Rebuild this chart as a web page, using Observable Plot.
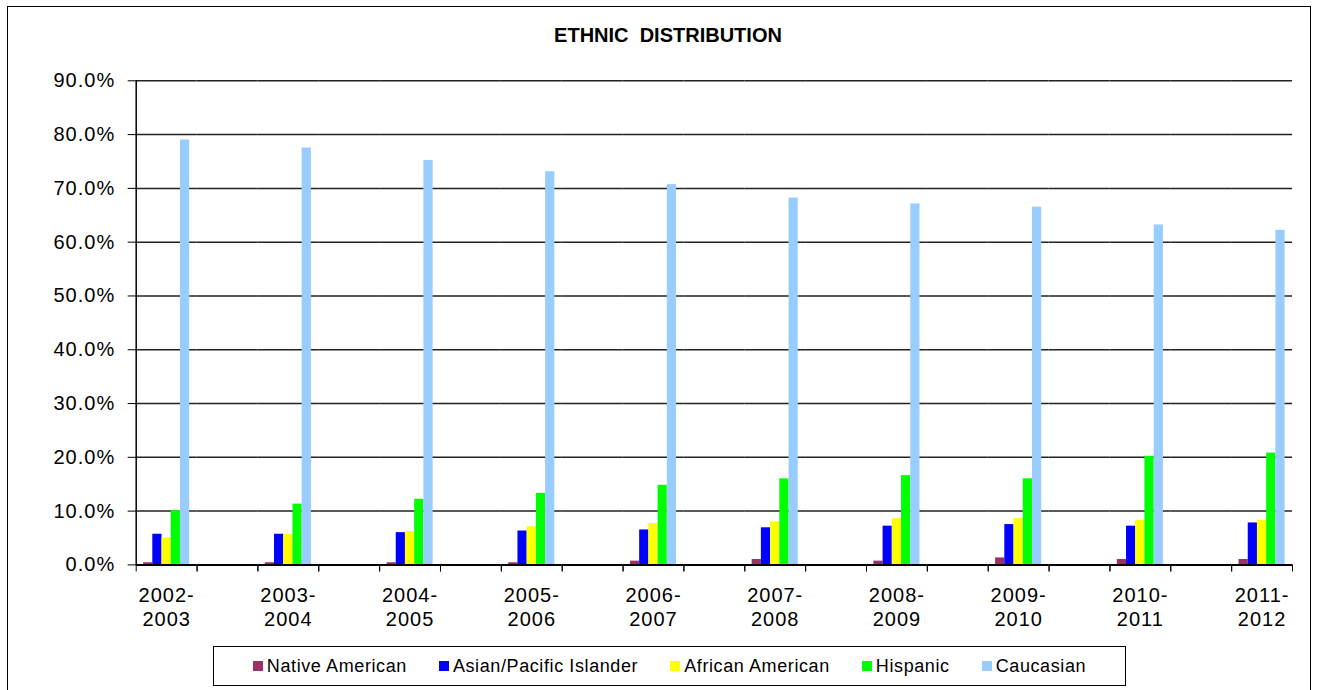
<!DOCTYPE html>
<html>
<head>
<meta charset="utf-8">
<script src="https://cdn.jsdelivr.net/npm/d3@7"></script>
<script src="https://cdn.jsdelivr.net/npm/@observablehq/plot@0.6"></script>
<style>
  body { margin: 0; background: #fff; font-family: "Liberation Sans", Arial, sans-serif; color: #000; }
  #wrap { position: relative; width: 1317px; height: 690px; overflow: hidden; background: #fff; }
  #border { position: absolute; left: 7px; top: 6px; width: 1302px; height: 720px; border: 1px solid #000; }
  #chart { position: absolute; left: 0; top: 0; }
  #title { position: absolute; left: 668px; top: 25px; transform: translateX(-50%);
           font-size: 20px; font-weight: bold; line-height: 20px; white-space: pre; }
  #legend { position: absolute; left: 213px; top: 646px; width: 911px; height: 38px;
            border: 1px solid #000; display: flex; align-items: center; justify-content: center;
            gap: 32px; font-size: 18px; letter-spacing: 0.6px; }
  .item { display: flex; align-items: center; white-space: nowrap; }
  .sw { width: 10px; height: 10px; margin-right: 4px; }
</style>
</head>
<body>
<div id="wrap">
  <div id="border"></div>
  <div id="chart"></div>
  <div id="title">ETHNIC  DISTRIBUTION</div>
  <div id="legend"></div>
</div>
<script>
const years = ["2002-2003", "2003-2004", "2004-2005", "2005-2006", "2006-2007",
               "2007-2008", "2008-2009", "2009-2010", "2010-2011", "2011-2012"];
const seriesNames = ["Native American", "Asian/Pacific Islander", "African American", "Hispanic", "Caucasian"];
const seriesColors = ["#993366", "#0000FF", "#FFFF00", "#00FF00", "#99CCFF"];

// percent values
const nativeAmerican       = [0.4, 0.4, 0.4, 0.4, 0.7, 1.0, 0.7, 1.3, 1.0, 1.0];
const asianPacificIslander = [5.7, 5.7, 6.0, 6.3, 6.5, 6.9, 7.2, 7.5, 7.2, 7.8];
const africanAmerican      = [5.0, 5.7, 6.2, 7.1, 7.7, 8.0, 8.6, 8.6, 8.3, 8.3];
const hispanic             = [10.1, 11.3, 12.2, 13.3, 14.8, 16.0, 16.6, 16.0, 20.2, 20.8];
const caucasian            = [79.0, 77.5, 75.2, 73.1, 70.7, 68.2, 67.1, 66.5, 63.2, 62.2];
const seriesValues = [nativeAmerican, asianPacificIslander, africanAmerican, hispanic, caucasian];

const yTicks = [0, 0.1, 0.2, 0.3, 0.4, 0.5, 0.6, 0.7, 0.8, 0.9];

// categories: each school year is followed by a blank category (as in the source sheet)
const slots = years.flatMap((y, i) => i < years.length - 1 ? [y, "blank " + i] : [y]);
const table = slots.flatMap(slot => {
  const yi = years.indexOf(slot);
  return seriesNames.map((s, j) => ({
    slot, series: s, idx: j,
    value: yi < 0 ? null : seriesValues[j][yi] / 100
  }));
});

const gap = 0.8; // outer gap within a category, in bar widths
const xDomain = [-gap, seriesNames.length + gap];

const chart = Plot.plot({
  width: 1317,
  height: 640,
  marginLeft: 135.7,
  marginRight: 25,
  marginTop: 80.3,
  marginBottom: 75.6,
  style: { background: "transparent", fontFamily: "'Liberation Sans', Arial, sans-serif", color: "#000", letterSpacing: "1px" },
  fx: { domain: slots, padding: 0, round: false, label: null },
  x: { domain: xDomain, label: null },
  y: { domain: [0, 0.9], label: null },
  color: { domain: seriesNames, range: seriesColors },
  marks: [
    Plot.ruleY(yTicks.slice(1), { stroke: "#222", strokeWidth: 1.5 }),
    Plot.rect(table, { fx: "slot", x1: "idx", x2: d => d.idx + 1, y1: 0, y2: "value", fill: "series" }),
    Plot.ruleY([0], { stroke: "#000", strokeWidth: 2 }),
    Plot.ruleX([{ slot: slots[0], edge: xDomain[0] }], { fx: "slot", x: "edge", y1: 0, y2: 0.9, stroke: "#000", strokeWidth: 1.5 }),
    Plot.axisY({ ticks: yTicks, tickFormat: d3.format(".1%"), tickSize: 8, tickPadding: 13, fontSize: 20, label: null, style: { letterSpacing: "1.5px" } }),
    Plot.axisX({ ticks: xDomain, tickSize: 7, tickFormat: () => "", label: null }),
    Plot.axisFx({ anchor: "bottom", tickSize: 0, tickPadding: 20, fontSize: 20, lineHeight: 1.2, label: null,
                  tickFormat: d => years.includes(d) ? d.replace("-", "-\n") : "" })
  ]
});
document.getElementById("chart").appendChild(chart);

const legend = document.getElementById("legend");
seriesNames.forEach((s, j) => {
  const item = document.createElement("div");
  item.className = "item";
  const sw = document.createElement("span");
  sw.className = "sw";
  sw.style.background = seriesColors[j];
  const label = document.createElement("span");
  label.textContent = s;
  item.appendChild(sw);
  item.appendChild(label);
  legend.appendChild(item);
});
</script>
</body>
</html>
